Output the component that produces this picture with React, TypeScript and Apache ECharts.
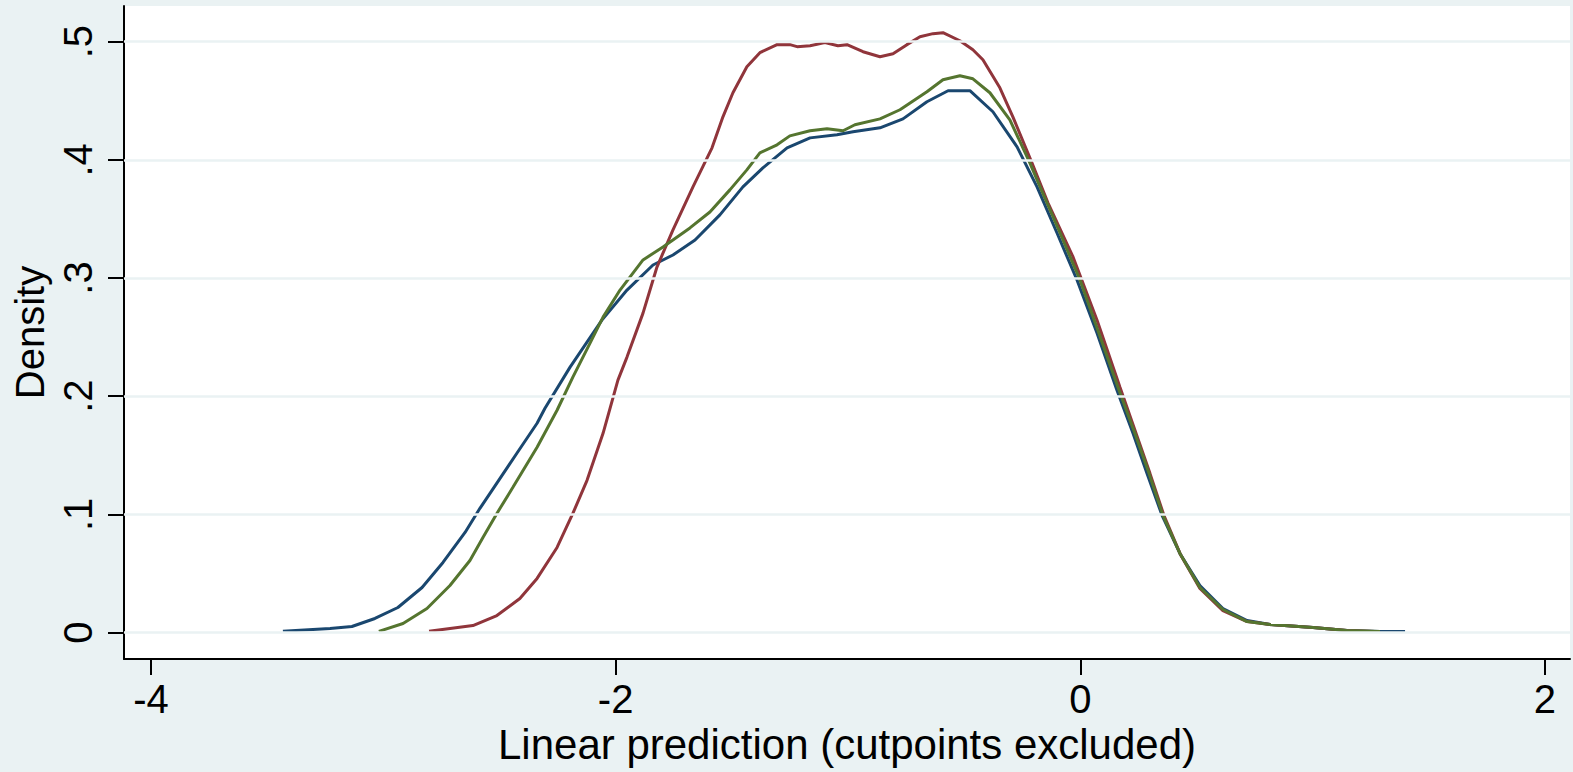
import React, { useEffect, useRef } from "react";
import * as echarts from "echarts";

const xTicks = [-4, -2, 0, 2];
const yTicks = [0, 0.1, 0.2, 0.3, 0.4, 0.5];
const yTickLabels = ["0", ".1", ".2", ".3", ".4", ".5"];

// series 1 (navy)
const navyX = [-3.432, -3.229, -3.135, -3.036, -2.937, -2.833, -2.743, -2.648, -2.584, -2.532, -2.425, -2.338, -2.304, -2.196, -2.059, -1.951, -1.839, -1.753, -1.658, -1.551, -1.452, -1.366, -1.262, -1.163, -1.047, -0.978, -0.862, -0.763, -0.660, -0.569, -0.475, -0.376, -0.272, -0.186, -0.100, -0.014, 0.072, 0.158, 0.227, 0.287, 0.352, 0.429, 0.515, 0.614, 0.718, 0.817, 1.002, 1.148, 1.290, 1.398];
const navyY = [0.001, 0.0034, 0.0051, 0.0119, 0.0212, 0.0381, 0.0593, 0.0847, 0.1051, 0.1203, 0.1517, 0.1771, 0.1898, 0.2246, 0.2644, 0.2898, 0.3110, 0.3195, 0.3322, 0.3534, 0.3771, 0.3932, 0.4102, 0.4186, 0.4212, 0.4237, 0.4271, 0.4347, 0.4492, 0.4585, 0.4585, 0.4407, 0.4110, 0.3771, 0.3381, 0.2983, 0.2534, 0.2051, 0.1686, 0.1347, 0.0992, 0.0669, 0.0398, 0.0203, 0.0102, 0.0068, 0.0042, 0.0017, 0.0008, 0.0008];

// series 2 (maroon)
const maroonX = [-2.803, -2.614, -2.511, -2.412, -2.338, -2.252, -2.184, -2.123, -2.054, -1.990, -1.951, -1.882, -1.822, -1.753, -1.667, -1.585, -1.538, -1.495, -1.435, -1.379, -1.305, -1.250, -1.219, -1.163, -1.099, -1.043, -1.004, -0.935, -0.862, -0.806, -0.746, -0.690, -0.634, -0.591, -0.518, -0.462, -0.419, -0.346, -0.290, -0.208, -0.139, -0.031, 0.072, 0.171, 0.240, 0.300, 0.360, 0.433, 0.515, 0.614, 0.718, 0.817, 1.002, 1.148, 1.268];
const maroonY = [0.001, 0.0059, 0.0144, 0.0288, 0.0458, 0.0720, 0.1008, 0.1288, 0.1686, 0.2136, 0.2331, 0.2703, 0.3093, 0.3407, 0.3771, 0.4102, 0.4364, 0.4568, 0.4788, 0.4907, 0.4975, 0.4975, 0.4958, 0.4966, 0.4992, 0.4966, 0.4975, 0.4915, 0.4873, 0.4898, 0.4975, 0.5042, 0.5068, 0.5076, 0.5008, 0.4932, 0.4847, 0.4610, 0.4364, 0.3975, 0.3636, 0.3178, 0.2644, 0.2076, 0.1686, 0.1347, 0.0992, 0.0653, 0.0373, 0.0186, 0.0093, 0.0068, 0.0042, 0.0017, 0.0008];

// series 3 (green)
const greenX = [-3.019, -2.915, -2.812, -2.713, -2.627, -2.571, -2.511, -2.442, -2.338, -2.252, -2.184, -2.110, -2.054, -1.981, -1.882, -1.796, -1.680, -1.594, -1.508, -1.435, -1.379, -1.305, -1.250, -1.163, -1.090, -1.021, -0.970, -0.862, -0.776, -0.660, -0.591, -0.518, -0.462, -0.389, -0.303, -0.217, -0.173, -0.087, -0.001, 0.080, 0.167, 0.235, 0.296, 0.356, 0.429, 0.515, 0.614, 0.718, 0.817, 1.002, 1.148, 1.290];
const greenY = [0.001, 0.0076, 0.0203, 0.0398, 0.0610, 0.0805, 0.1008, 0.1229, 0.1568, 0.1881, 0.2161, 0.2449, 0.2669, 0.2898, 0.3153, 0.3263, 0.3424, 0.3559, 0.3746, 0.3915, 0.4059, 0.4127, 0.4203, 0.4246, 0.4263, 0.4246, 0.4297, 0.4347, 0.4424, 0.4576, 0.4678, 0.4712, 0.4686, 0.4568, 0.4339, 0.3975, 0.3771, 0.3381, 0.2983, 0.2534, 0.2051, 0.1686, 0.1347, 0.0992, 0.0669, 0.0381, 0.0195, 0.0093, 0.0068, 0.0042, 0.0017, 0.0008];

const FONT = "'Liberation Sans', Arial, Helvetica, sans-serif";
const BG = "#EAF2F3";

const zip = (xs: number[], ys: number[]) => xs.map((x, i) => [x, ys[i]]);

export default function App() {
  const ref = useRef<HTMLDivElement>(null);
  useEffect(() => {
    document.body.style.margin = "0";
    const chart = echarts.init(ref.current!, null, { renderer: "svg" });
    const lineSeries = (name: string, data: number[][], color: string) => ({
      name,
      type: "line",
      data,
      showSymbol: false,
      symbol: "none",
      smooth: false,
      z: 3,
      lineStyle: { color, width: 3 },
    });
    chart.setOption({
      animation: false,
      backgroundColor: BG,
      textStyle: { fontFamily: FONT },
      grid: {
        left: 124,
        right: 3,
        top: 6,
        bottom: 113,
        show: true,
        backgroundColor: "#FFFFFF",
        borderWidth: 0,
      },
      xAxis: {
        type: "value",
        min: -4.116,
        max: 2.108,
        name: "Linear prediction (cutpoints excluded)",
        nameLocation: "middle",
        nameGap: 63,
        nameTextStyle: { fontFamily: FONT, fontSize: 42, color: "#000" },
        axisLine: { show: true, onZero: false, lineStyle: { color: "#000", width: 2 } },
        axisTick: { show: true, inside: false, length: 16, customValues: xTicks, lineStyle: { color: "#000", width: 2 } },
        axisLabel: { customValues: xTicks, margin: 20, fontFamily: FONT, fontSize: 40, color: "#000", formatter: (v: number) => String(v) },
        splitLine: { show: false },
      },
      yAxis: {
        type: "value",
        min: -0.0224,
        max: 0.5302,
        name: "Density",
        nameLocation: "middle",
        nameRotate: 90,
        nameGap: 70,
        nameTextStyle: { fontFamily: FONT, fontSize: 40, color: "#000" },
        axisLine: { show: true, onZero: false, lineStyle: { color: "#000", width: 2 } },
        axisTick: { show: true, inside: false, length: 16, customValues: yTicks, lineStyle: { color: "#000", width: 2 } },
        axisLabel: {
          customValues: yTicks,
          rotate: 90,
          margin: 26,
          fontFamily: FONT,
          fontSize: 40,
          color: "#000",
          formatter: (v: number) => {
            const i = yTicks.findIndex((t) => Math.abs(t - v) < 1e-6);
            return i >= 0 ? yTickLabels[i] : "";
          },
        },
        splitLine: { show: false },
      },
      series: [
        {
          name: "grid",
          type: "line",
          data: [],
          z: 1,
          silent: true,
          markLine: {
            silent: true,
            symbol: "none",
            label: { show: false },
            lineStyle: { color: BG, width: 2.5, type: "solid" },
            data: yTicks.map((v) => ({ yAxis: v })),
          },
        },
        lineSeries("navy", zip(navyX, navyY), "#1A476F"),
        lineSeries("maroon", zip(maroonX, maroonY), "#90353B"),
        lineSeries("green", zip(greenX, greenY), "#55752F"),
      ],
    });
    return () => chart.dispose();
  }, []);
  return <div ref={ref} style={{ width: 1573, height: 772 }} />;
}
